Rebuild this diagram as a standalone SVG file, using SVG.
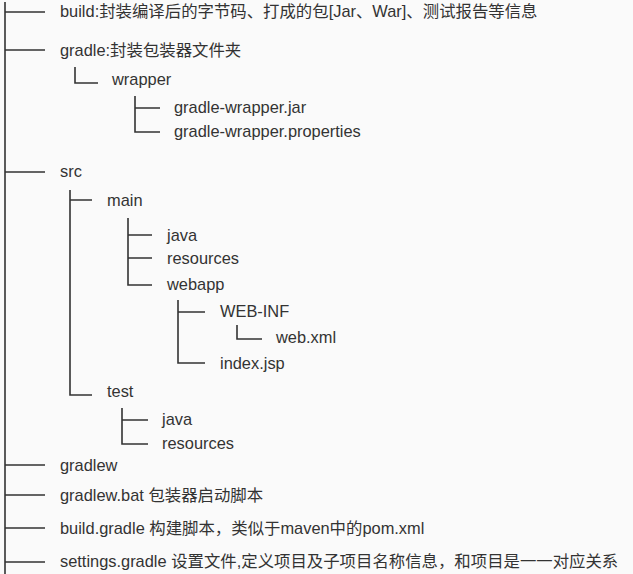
<svg xmlns="http://www.w3.org/2000/svg" width="633" height="574" viewBox="0 0 633 574">
<style>
text{font-family:"Liberation Sans","Noto Sans CJK SC",sans-serif;font-size:16.4px;fill:#333}
path{stroke:#333;stroke-width:1.6;fill:none}
</style>
<rect width="633" height="574" fill="#fafafa"/>
<g id="connectors">
<path d="M5,2V574"/>
<path d="M5,12H45M5,50H45M5,172H45M5,465H45M5,495H45M5,528H45M5,562H45"/>
<path d="M75,67V83H98"/>
<path d="M135,96V132H160M135,108H160"/>
<path d="M70,190V395H92M70,200H92"/>
<path d="M128,218V285H152M128,235H152M128,258H152"/>
<path d="M178,300V363H205M178,312H205"/>
<path d="M237,325V339H262"/>
<path d="M122,408V444H148M122,420H148"/>
</g>
<g id="nodes">
<text id="build" x="60" y="17">build:封装编译后的字节码、打成的包[Jar、War]、测试报告等信息</text>
<text id="gradle" x="60" y="56">gradle:封装包装器文件夹</text>
<text id="wrapper" x="112" y="85">wrapper</text>
<text id="gwjar" x="174" y="113">gradle-wrapper.jar</text>
<text id="gwprop" x="174" y="137">gradle-wrapper.properties</text>
<text id="src" x="60" y="177">src</text>
<text id="main" x="107" y="206">main</text>
<text id="java1" x="167" y="241">java</text>
<text id="res1" x="167" y="264">resources</text>
<text id="webapp" x="167" y="290">webapp</text>
<text id="webinf" x="220" y="317">WEB-INF</text>
<text id="webxml" x="276" y="343">web.xml</text>
<text id="index" x="220" y="369">index.jsp</text>
<text id="test" x="107" y="397">test</text>
<text id="java2" x="162" y="425">java</text>
<text id="res2" x="162" y="449">resources</text>
<text id="gradlew" x="60" y="471">gradlew</text>
<text id="gradlewbat" x="60" y="501">gradlew.bat 包装器启动脚本</text>
<text id="buildgradle" x="60" y="534">build.gradle 构建脚本，类似于maven中的pom.xml</text>
<text id="settings" x="60" y="567">settings.gradle 设置文件,定义项目及子项目名称信息，和项目是一一对应关系</text>
</g>
</svg>
